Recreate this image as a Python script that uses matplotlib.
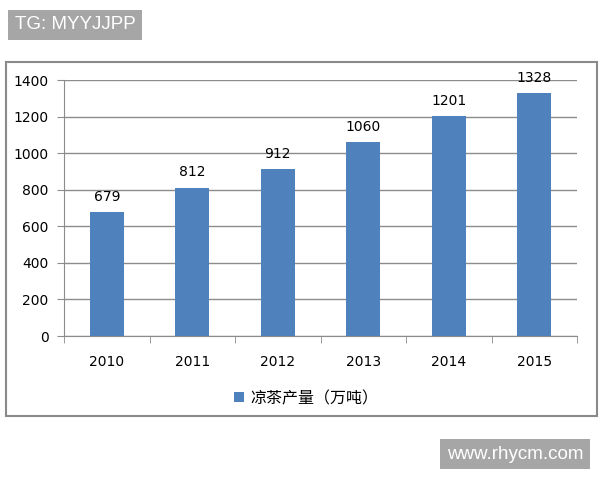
import matplotlib.pyplot as plt
from matplotlib.patches import Rectangle

plt.rcParams['font.family'] = ['DejaVu Sans', 'Noto Sans CJK SC']

# Data
years = ["2010", "2011", "2012", "2013", "2014", "2015"]
output = [679, 812, 912, 1060, 1201, 1328]
series_name = "凉茶产量（万吨）"
y_ticks = [0, 200, 400, 600, 800, 1000, 1200, 1400]

BAR_COLOR = '#4F81BD'
GRID_COLOR = '#8c8c8c'

fig = plt.figure(figsize=(6, 4.8), dpi=100)

# outer chart frame
fig.patches.append(Rectangle((0.01, 0.133), 0.985, 0.738, transform=fig.transFigure,
                             fill=False, edgecolor='#8a8a8a', linewidth=1.5))

ax = fig.add_axes([0.1067, 0.30, 0.855, 0.5333])
x = range(len(years))
bars = ax.bar(x, output, width=0.4, color=BAR_COLOR, label=series_name, zorder=3)
for xi, v in zip(x, output):
    ax.text(xi, v + 45, str(v), ha='center', va='bottom', fontsize=10, zorder=4)

ax.set_xlim(-0.5, len(years) - 0.5)
ax.set_ylim(0, 1400)
ax.set_yticks(y_ticks)
ax.set_xticks(list(x))
ax.set_xticklabels(years)
ax.set_xticks([i - 0.5 for i in range(len(years) + 1)], minor=True)
ax.tick_params(axis='x', which='major', length=0, pad=14, labelsize=10)
ax.tick_params(axis='x', which='minor', length=5, color=GRID_COLOR)
ax.tick_params(axis='y', length=5, color=GRID_COLOR, pad=6, labelsize=10)

ax.grid(axis='y', color=GRID_COLOR, linewidth=1, zorder=0)
for side in ['top', 'right']:
    ax.spines[side].set_visible(False)
for side in ['left', 'bottom']:
    ax.spines[side].set_color(GRID_COLOR)

ax.legend(loc='center', bbox_to_anchor=(0.51, 0.17), bbox_transform=fig.transFigure,
          frameon=False, fontsize=11.5, handlelength=0.6, handleheight=0.6, handletextpad=0.4)

# watermarks
fig.text(0.025, 0.948, "TG: MYYJJPP", color='white', fontsize=13.5, va='center', ha='left',
         family='Liberation Sans',
         bbox=dict(boxstyle='square,pad=0.35', facecolor='#a6a6a6', edgecolor='none'))
fig.text(0.745, 0.054, "www.rhycm.com", color='white', fontsize=13.5, va='center', ha='left',
         family='Liberation Sans',
         bbox=dict(boxstyle='square,pad=0.35', facecolor='#a6a6a6', edgecolor='none'))

fig.savefig('out.png', dpi=100)
